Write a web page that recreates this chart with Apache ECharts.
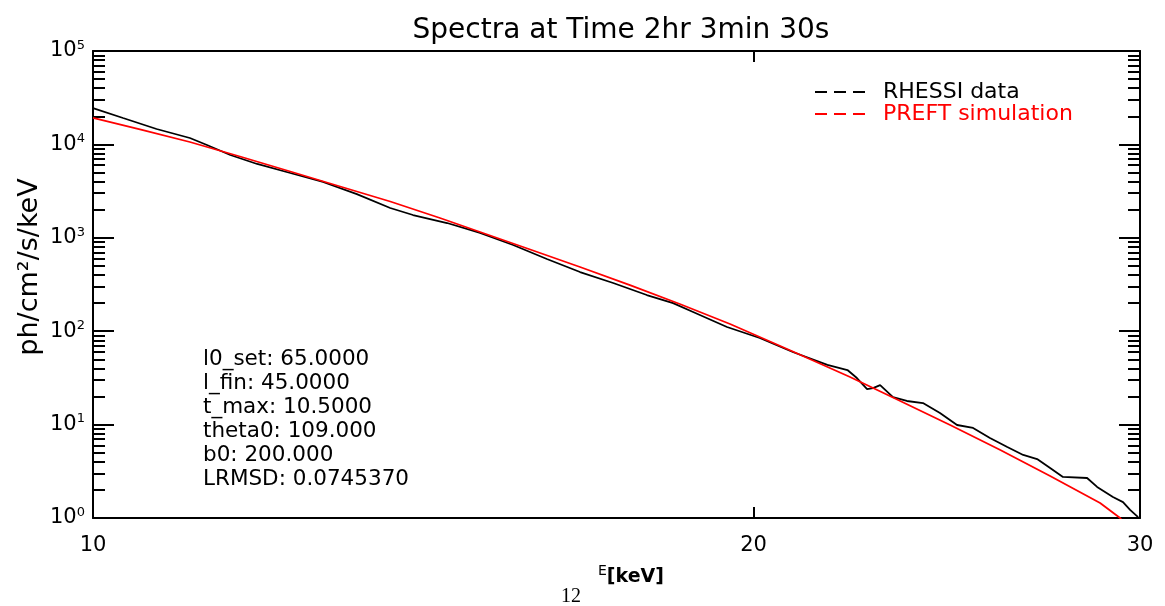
<!DOCTYPE html>
<html><head><meta charset="utf-8">
<script src="https://cdn.jsdelivr.net/npm/echarts@6/dist/echarts.min.js"></script>
<style>html,body{margin:0;padding:0;background:#fff}#c{width:1165px;height:606px}</style>
</head><body><div id="c"></div>
<script>
const titleText = 'Spectra at Time 2hr 3min 30s';
const seriesNames = ['RHESSI data', 'PREFT simulation'];
const yAxisName = 'ph/cm²/s/keV';
const xAxisNameParts = ['E', '[keV]'];
const pageNumber = '12';

// RHESSI data: energy (keV) and flux
const rhessiE = [10.00, 10.32, 10.69, 11.07, 11.27, 11.55, 11.88, 12.30, 12.73, 13.19, 13.66, 13.99, 14.50, 15.01, 15.54, 16.10, 16.67, 17.26, 17.88, 18.38, 18.77, 19.45, 20.13, 20.84, 21.61, 22.07, 22.29, 22.53, 22.67, 22.84, 23.15, 23.49, 23.89, 24.32, 24.76, 25.18, 25.63, 26.10, 26.54, 26.93, 27.30, 27.67, 28.38, 28.68, 29.16, 29.47, 29.69, 29.94];
const rhessiF = [24500, 19180, 14620, 11710, 9860, 7700, 6170, 4940, 3960, 2940, 2085, 1754, 1440, 1126, 837, 593, 430, 328, 244, 200, 160.6, 110.9, 84.6, 59.9, 43.5, 38.4, 31.5, 24.0, 24.6, 26.5, 19.7, 17.9, 17.0, 13.3, 9.9, 9.2, 7.19, 5.75, 4.73, 4.28, 3.43, 2.75, 2.68, 2.15, 1.68, 1.48, 1.22, 1.02];

// PREFT simulation
const preftE = [10.00, 10.505, 11.07, 11.667, 12.30, 12.961, 13.66, 14.392, 15.01, 15.821, 16.67, 17.567, 18.51, 19.512, 20.84, 22.13, 23.15, 24.58, 25.91, 27.30, 28.77, 29.38, 29.6];
const preftF = [19180, 14510, 10610, 7422, 5128, 3543, 2447, 1629, 1154, 749, 487, 312, 195.5, 119.4, 60.6, 32.3, 19.5, 9.90, 5.35, 2.82, 1.45, 1.0, 0.8];

const xTickValues = [10, 20, 30];
const yMajorValues = [1, 10, 100, 1000, 10000, 100000];
const yMinorValues = [2,3,4,5,6,7,8,9, 20,30,40,50,60,70,80,90, 200,300,400,500,600,700,800,900, 2000,3000,4000,5000,6000,7000,8000,9000, 20000,30000,40000,50000,60000,70000,80000,90000];

const annotationLines = ['l0_set: 65.0000', 'l_fin: 45.0000', 't_max: 10.5000', 'theta0: 109.000', 'b0: 200.000', 'LRMSD: 0.0745370'];

const FONT = '"DejaVu Sans", sans-serif';
const DASH_ICON = 'path://M0,0h12v2h-12z M19,0h12v2h-12z M38,0h12v2h-12z';
const chart = echarts.init(document.getElementById('c'));

function yAx(position, major, showLabel) {
  return {
    type: 'log', logBase: 10, min: 1, max: 100000, position: position,
    axisLine: { show: major, lineStyle: { color: '#000', width: 2 } },
    axisTick: { show: true, inside: true, length: major ? 21 : 12, customValues: major ? yMajorValues : yMinorValues, lineStyle: { color: '#000', width: 2 } },
    axisLabel: showLabel ? {
      show: true, customValues: yMajorValues, margin: 8,
      formatter: function (v) { return '{b|10}{s|' + Math.round(Math.log10(v)) + '}'; },
      rich: {
        b: { fontSize: 21, fontFamily: FONT, color: '#000', lineHeight: 24 },
        s: { fontSize: 13, fontFamily: FONT, color: '#000', lineHeight: 14, verticalAlign: 'top' }
      }
    } : { show: false },
    splitLine: { show: false }
  };
}
function xAx(position, showLabel) {
  return {
    type: 'log', logBase: 10, min: 10, max: 30, position: position,
    axisLine: { show: true, onZero: false, lineStyle: { color: '#000', width: 2 } },
    axisTick: { show: true, inside: true, length: 11, customValues: [20], lineStyle: { color: '#000', width: 2 } },
    axisLabel: showLabel ? { show: true, customValues: xTickValues, margin: 17, fontSize: 21, fontFamily: FONT, color: '#000', formatter: function (v) { return String(Math.round(v)); } } : { show: false },
    splitLine: { show: false }
  };
}

chart.setOption({
  animation: false,
  backgroundColor: '#fff',
  title: {
    text: titleText, left: 616, top: 12, textAlign: 'center',
    textStyle: { fontFamily: FONT, fontSize: 28, fontWeight: 'normal', color: '#000' }
  },
  legend: {
    orient: 'vertical', left: 815, top: 81, padding: 0,
    itemWidth: 50, itemHeight: 14, itemGap: 0,
    data: [
      { name: seriesNames[0], icon: DASH_ICON, textStyle: { color: '#000' } },
      { name: seriesNames[1], icon: DASH_ICON, textStyle: { color: '#ff0000' } }
    ],
    textStyle: { fontFamily: FONT, fontSize: 22, lineHeight: 21, padding: [0, 0, 0, 13] }
  },
  grid: { left: 93, right: 25, top: 51, bottom: 88, containLabel: false },
  xAxis: [xAx('bottom', true), xAx('top', false)],
  yAxis: [
    yAx('left', true, true),
    yAx('left', false, false),
    yAx('right', true, false),
    yAx('right', false, false)
  ],
  series: [
    {
      name: seriesNames[0], type: 'line', xAxisIndex: 0, yAxisIndex: 0,
      symbol: 'none', clip: true, color: '#000',
      lineStyle: { color: '#000', width: 1.8 },
      data: rhessiE.map((e, i) => [e, rhessiF[i]])
    },
    {
      name: seriesNames[1], type: 'line', xAxisIndex: 0, yAxisIndex: 0,
      symbol: 'none', clip: true, color: '#ff0000',
      lineStyle: { color: '#ff0000', width: 1.8 },
      data: preftE.map((e, i) => [e, preftF[i]])
    }
  ],
  graphic: [
    {
      type: 'text', x: 30, y: 267, rotation: Math.PI / 2,
      style: { text: yAxisName, font: '27px ' + FONT, fill: '#000', align: 'center', verticalAlign: 'middle' }
    },
    {
      type: 'text', x: 203, y: 347,
      style: { text: annotationLines.join('\n'), font: '21.5px ' + FONT, fill: '#000', lineHeight: 24, verticalAlign: 'top', align: 'left' }
    },
    {
      type: 'text', x: 598, y: 564,
      style: {
        text: '{e|' + xAxisNameParts[0] + '}{k|' + xAxisNameParts[1] + '}', verticalAlign: 'top', align: 'left',
        rich: {
          e: { fontSize: 14, fontFamily: FONT, fill: '#000', lineHeight: 14, verticalAlign: 'top' },
          k: { fontSize: 19, fontFamily: FONT, fontWeight: 'bold', fill: '#000', lineHeight: 26 }
        }
      }
    },
    {
      type: 'text', x: 571, y: 597,
      style: { text: pageNumber, font: '20px "Liberation Serif", serif', fill: '#000', align: 'center', verticalAlign: 'middle' }
    }
  ]
});
</script>
</body></html>
